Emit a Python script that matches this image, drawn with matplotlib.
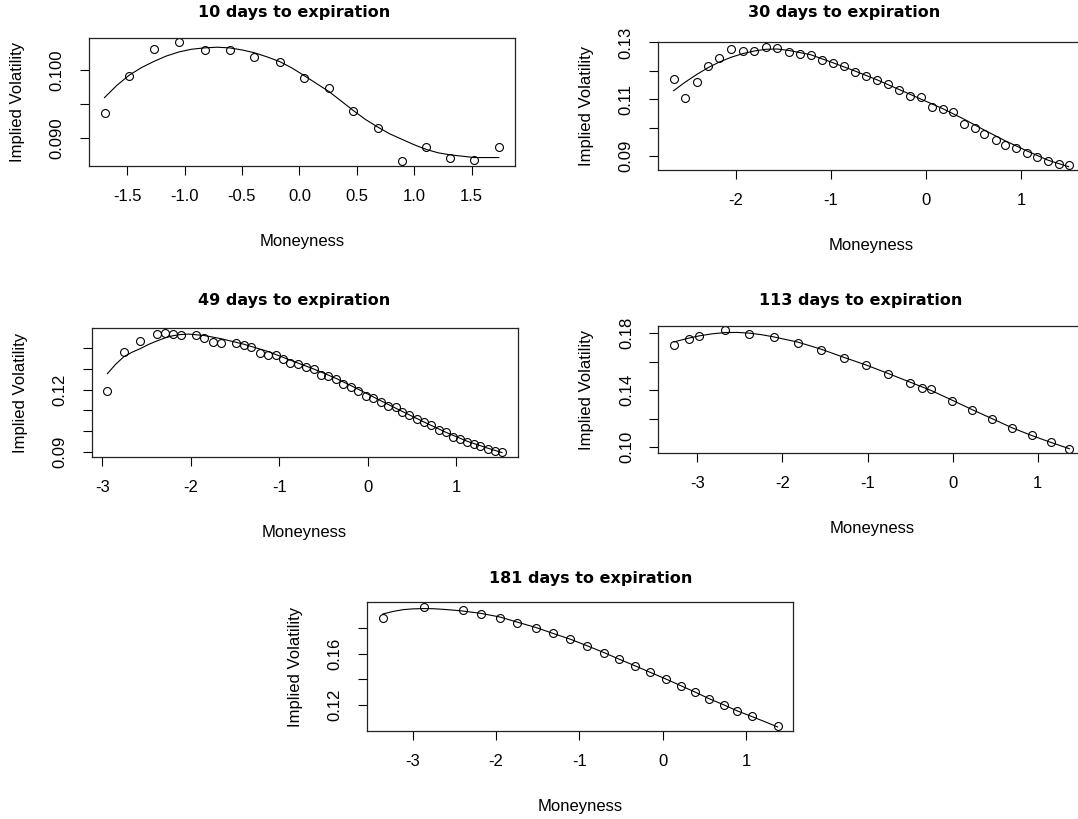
import numpy as np
import matplotlib

matplotlib.use("Agg")
import matplotlib.pyplot as plt

plt.rcParams['font.family'] = ['Liberation Sans', 'DejaVu Sans']
plt.rcParams['axes.unicode_minus'] = False

# ---- data: moneyness, implied vol, fitted curve ----
days = [10, 30, 49, 113, 181]

m10 = [-1.697, -1.480, -1.267, -1.048, -0.826, -0.607, -0.393, -0.171, 0.036,
       0.258, 0.471, 0.682, 0.892, 1.105, 1.312, 1.525, 1.739]
iv10 = [0.0938, 0.0992, 0.1031, 0.1041, 0.1030, 0.1030, 0.1020, 0.1012, 0.0989,
        0.0974, 0.0940, 0.0916, 0.0867, 0.0887, 0.0872, 0.0868, 0.0888]
fit_m10 = [-1.698, -1.590, -1.482, -1.376, -1.269, -1.160, -1.050, -0.940, -0.827,
           -0.718, -0.608, -0.500, -0.395, -0.285, -0.173, -0.070, 0.035, 0.146,
           0.257, 0.364, 0.470, 0.575, 0.680, 0.785, 0.890, 0.997, 1.104, 1.208,
           1.311, 1.418, 1.524, 1.630, 1.737]
fit_iv10 = [0.0960, 0.0978, 0.0993, 0.1004, 0.1013, 0.1021, 0.1027, 0.1031, 0.1033,
            0.1034, 0.1033, 0.1030, 0.1026, 0.1020, 0.1013, 0.1004, 0.0993, 0.0981,
            0.0969, 0.0955, 0.0941, 0.0928, 0.0917, 0.0907, 0.0899, 0.0891, 0.0884,
            0.0879, 0.0876, 0.0874, 0.0872, 0.0872, 0.0872]

m30 = [-2.652, -2.532, -2.410, -2.294, -2.172, -2.045, -1.923, -1.804, -1.685,
       -1.566, -1.443, -1.328, -1.212, -1.096, -0.981, -0.858, -0.743, -0.628,
       -0.512, -0.404, -0.289, -0.173, -0.058, 0.058, 0.173, 0.281, 0.397, 0.512,
       0.613, 0.732, 0.833, 0.949, 1.057, 1.169, 1.281, 1.393, 1.497]
iv30 = [0.1171, 0.1104, 0.1162, 0.1218, 0.1245, 0.1276, 0.1271, 0.1271, 0.1284,
        0.1281, 0.1268, 0.1259, 0.1257, 0.1240, 0.1229, 0.1217, 0.1197, 0.1181,
        0.1166, 0.1153, 0.1133, 0.1110, 0.1107, 0.1073, 0.1064, 0.1055, 0.1012,
        0.0998, 0.0978, 0.0956, 0.0939, 0.0928, 0.0912, 0.0896, 0.0883, 0.0873, 0.0867]
fit_m30 = [-2.651, -2.530, -2.409, -2.290, -2.171, -2.046, -1.922, -1.803, -1.684,
           -1.563, -1.442, -1.212, -0.981, -0.743, -0.512, -0.288, -0.058, 0.173,
           0.397, 0.613, 0.833, 1.057, 1.280, 1.497]
fit_iv30 = [0.1130, 0.1160, 0.1187, 0.1211, 0.1231, 0.1248, 0.1261, 0.1270, 0.1276,
            0.1277, 0.1272, 0.1257, 0.1229, 0.1199, 0.1168, 0.1135, 0.1101, 0.1067,
            0.1030, 0.0991, 0.0953, 0.0918, 0.0885, 0.0862]

m49 = [-2.942, -2.755, -2.572, -2.385, -2.296, -2.206, -2.109, -1.938, -1.848,
       -1.750, -1.661, -1.489, -1.400, -1.315, -1.217, -1.127, -1.042, -0.956,
       -0.874, -0.789, -0.699, -0.613, -0.532, -0.446, -0.356, -0.278, -0.193,
       -0.107, -0.021, 0.061, 0.146, 0.228, 0.313, 0.391, 0.470, 0.555, 0.637,
       0.718, 0.800, 0.878, 0.960, 1.037, 1.116, 1.194, 1.271, 1.353, 1.431, 1.513]
iv49 = [0.1193, 0.1381, 0.1436, 0.1466, 0.1472, 0.1466, 0.1462, 0.1462, 0.1449,
        0.1428, 0.1424, 0.1425, 0.1414, 0.1406, 0.1377, 0.1367, 0.1367, 0.1349,
        0.1326, 0.1325, 0.1308, 0.1297, 0.1270, 0.1266, 0.1250, 0.1227, 0.1213,
        0.1192, 0.1167, 0.1161, 0.1141, 0.1119, 0.1116, 0.1093, 0.1078, 0.1057,
        0.1043, 0.1030, 0.1007, 0.0994, 0.0971, 0.0960, 0.0947, 0.0939, 0.0931,
        0.0916, 0.0906, 0.0900]
fit_m49 = [-2.941, -2.848, -2.754, -2.662, -2.571, -2.478, -2.384, -2.294, -2.204,
           -2.112, -2.021, -1.846, -1.659, -1.398, -1.126, -0.872, -0.611, -0.354,
           -0.105, 0.148, 0.393, 0.639, 0.884, 1.118, 1.355, 1.515]
fit_iv49 = [0.1277, 0.1322, 0.1359, 0.1380, 0.1397, 0.1417, 0.1434, 0.1448, 0.1459,
            0.1465, 0.1467, 0.1460, 0.1445, 0.1418, 0.1383, 0.1341, 0.1299, 0.1253,
            0.1201, 0.1146, 0.1094, 0.1043, 0.0994, 0.0952, 0.0918, 0.0897]

m113 = [-3.273, -3.095, -2.978, -2.675, -2.388, -2.105, -1.818, -1.548, -1.281,
        -1.014, -0.760, -0.501, -0.356, -0.251, -0.004, 0.230, 0.464, 0.695,
        0.929, 1.152, 1.374]
iv113 = [0.1716, 0.1762, 0.1779, 0.1819, 0.1793, 0.1770, 0.1732, 0.1685, 0.1629,
         0.1578, 0.1517, 0.1454, 0.1419, 0.1409, 0.1323, 0.1262, 0.1201, 0.1136,
         0.1084, 0.1037, 0.0991]
fit_m113 = [-3.273, -3.095, -2.978, -2.830, -2.675, -2.530, -2.388, -2.245, -2.105,
            -1.818, -1.548, -1.281, -1.014, -0.760, -0.501, -0.251, -0.004, 0.230,
            0.464, 0.695, 0.929, 1.152, 1.374]
fit_iv113 = [0.1739, 0.1766, 0.1781, 0.1795, 0.1804, 0.1805, 0.1800, 0.1789, 0.1774,
             0.1737, 0.1688, 0.1631, 0.1576, 0.1518, 0.1457, 0.1398, 0.1330, 0.1264,
             0.1201, 0.1138, 0.1083, 0.1035, 0.0990]

m181 = [-3.355, -2.866, -2.398, -2.175, -1.952, -1.745, -1.521, -1.322, -1.107,
        -0.908, -0.710, -0.524, -0.333, -0.155, 0.035, 0.213, 0.391, 0.553,
        0.735, 0.892, 1.066, 1.376]
iv181 = [0.1876, 0.1965, 0.1939, 0.1910, 0.1879, 0.1842, 0.1800, 0.1758, 0.1713,
         0.1660, 0.1608, 0.1555, 0.1505, 0.1455, 0.1400, 0.1350, 0.1297, 0.1245,
         0.1200, 0.1150, 0.1113, 0.1034]
fit_m181 = [-3.355, -3.230, -3.110, -2.990, -2.866, -2.750, -2.630, -2.515, -2.398,
            -2.175, -1.952, -1.745, -1.521, -1.322, -1.107, -0.908, -0.710, -0.524,
            -0.333, -0.155, 0.035, 0.213, 0.391, 0.553, 0.735, 0.892, 1.066, 1.220,
            1.376]
fit_iv181 = [0.1911, 0.1931, 0.1945, 0.1951, 0.1953, 0.1952, 0.1947, 0.1941, 0.1934,
             0.1915, 0.1887, 0.1847, 0.1805, 0.1760, 0.1713, 0.1662, 0.1610, 0.1557,
             0.1505, 0.1455, 0.1402, 0.1350, 0.1298, 0.1248, 0.1198, 0.1152, 0.1108,
             0.1068, 0.1026]

# axis ticks (all ticks, and the ones R kept a label on)
xticks = [[-1.5, -1.0, -0.5, 0.0, 0.5, 1.0, 1.5], [-2, -1, 0, 1],
          [-3, -2, -1, 0, 1], [-3, -2, -1, 0, 1], [-3, -2, -1, 0, 1]]
xticklabels = [['-1.5', '-1.0', '-0.5', '0.0', '0.5', '1.0', '1.5'],
               ['-2', '-1', '0', '1'], ['-3', '-2', '-1', '0', '1'],
               ['-3', '-2', '-1', '0', '1'], ['-3', '-2', '-1', '0', '1']]
yticks = [[0.090, 0.095, 0.100], [0.09, 0.10, 0.11, 0.12, 0.13],
          [0.09, 0.10, 0.11, 0.12, 0.13, 0.14], [0.10, 0.12, 0.14, 0.16, 0.18],
          [0.12, 0.14, 0.16, 0.18]]
yticklabels = [['0.090', '', '0.100'], ['0.09', '', '0.11', '', '0.13'],
               ['0.09', '', '', '0.12', '', ''], ['0.10', '', '0.14', '', '0.18'],
               ['0.12', '', '0.16', '']]

points = [(m10, iv10), (m30, iv30), (m49, iv49), (m113, iv113), (m181, iv181)]
fits = [(fit_m10, fit_iv10), (fit_m30, fit_iv30), (fit_m49, fit_iv49),
        (fit_m113, fit_iv113), (fit_m181, fit_iv181)]

# ---- layout in pixels (figure is 1078 x 819) ----
W, H = 1078, 819
# box: left, right, top, bottom
boxes = [(88.8, 514.8, 37.7, 165.7), (657.7, 1084.4, 42.3, 170.0),
         (91.6, 517.6, 328.3, 456.7), (658.4, 1085.2, 325.7, 453.3),
         (367.1, 793.4, 602.3, 730.7)]
# title centre x and baseline y
title_pos = [(293.8, 16.7), (844.2, 17.3), (294.6, 305.0), (860.5, 305.0), (590.6, 582.7)]

fig = plt.figure(figsize=(W / 100, H / 100), dpi=100)

for i in range(5):
    l, r, t, b = boxes[i]
    ax = fig.add_axes([l / W, 1 - b / H, (r - l) / W, (b - t) / H])
    x, y = np.array(points[i][0]), np.array(points[i][1])
    fx, fy = fits[i]

    ax.plot(x, y, 'o', mfc='none', mec='black', ms=5.7, mew=0.8)
    ax.plot(fx, fy, '-', color='black', lw=0.8)

    # R style 4% padding around the points
    xr = x.max() - x.min()
    yr = y.max() - y.min()
    ax.set_xlim(x.min() - 0.04 * xr, x.max() + 0.04 * xr)
    ax.set_ylim(y.min() - 0.04 * yr, y.max() + 0.04 * yr)

    ax.set_xticks(xticks[i])
    ax.set_xticklabels(xticklabels[i])
    ax.set_yticks(yticks[i])
    ax.set_yticklabels(yticklabels[i], rotation=90, va='center')
    ax.tick_params(length=6.5, width=0.8, labelsize=12, colors='black')
    ax.tick_params(axis='x', pad=10)
    ax.tick_params(axis='y', pad=11)
    for s in ax.spines.values():
        s.set_linewidth(0.9)
        s.set_color('#222222')

    bw, bh = r - l, b - t
    ax.text(0.5, -80 / bh, 'Moneyness', transform=ax.transAxes,
            ha='center', va='baseline', fontsize=12)
    ax.text(-79 / bw, 0.5, 'Implied Volatility', transform=ax.transAxes,
            rotation=90, ha='left', va='center', fontsize=12)

    tx, ty = title_pos[i]
    fig.text(tx / W, 1 - ty / H, f'{days[i]} days to expiration',
             ha='center', va='baseline', fontsize=11.5, fontweight='bold',
             family='DejaVu Sans')

fig.savefig('out.png', dpi=100)
plt.close(fig)
